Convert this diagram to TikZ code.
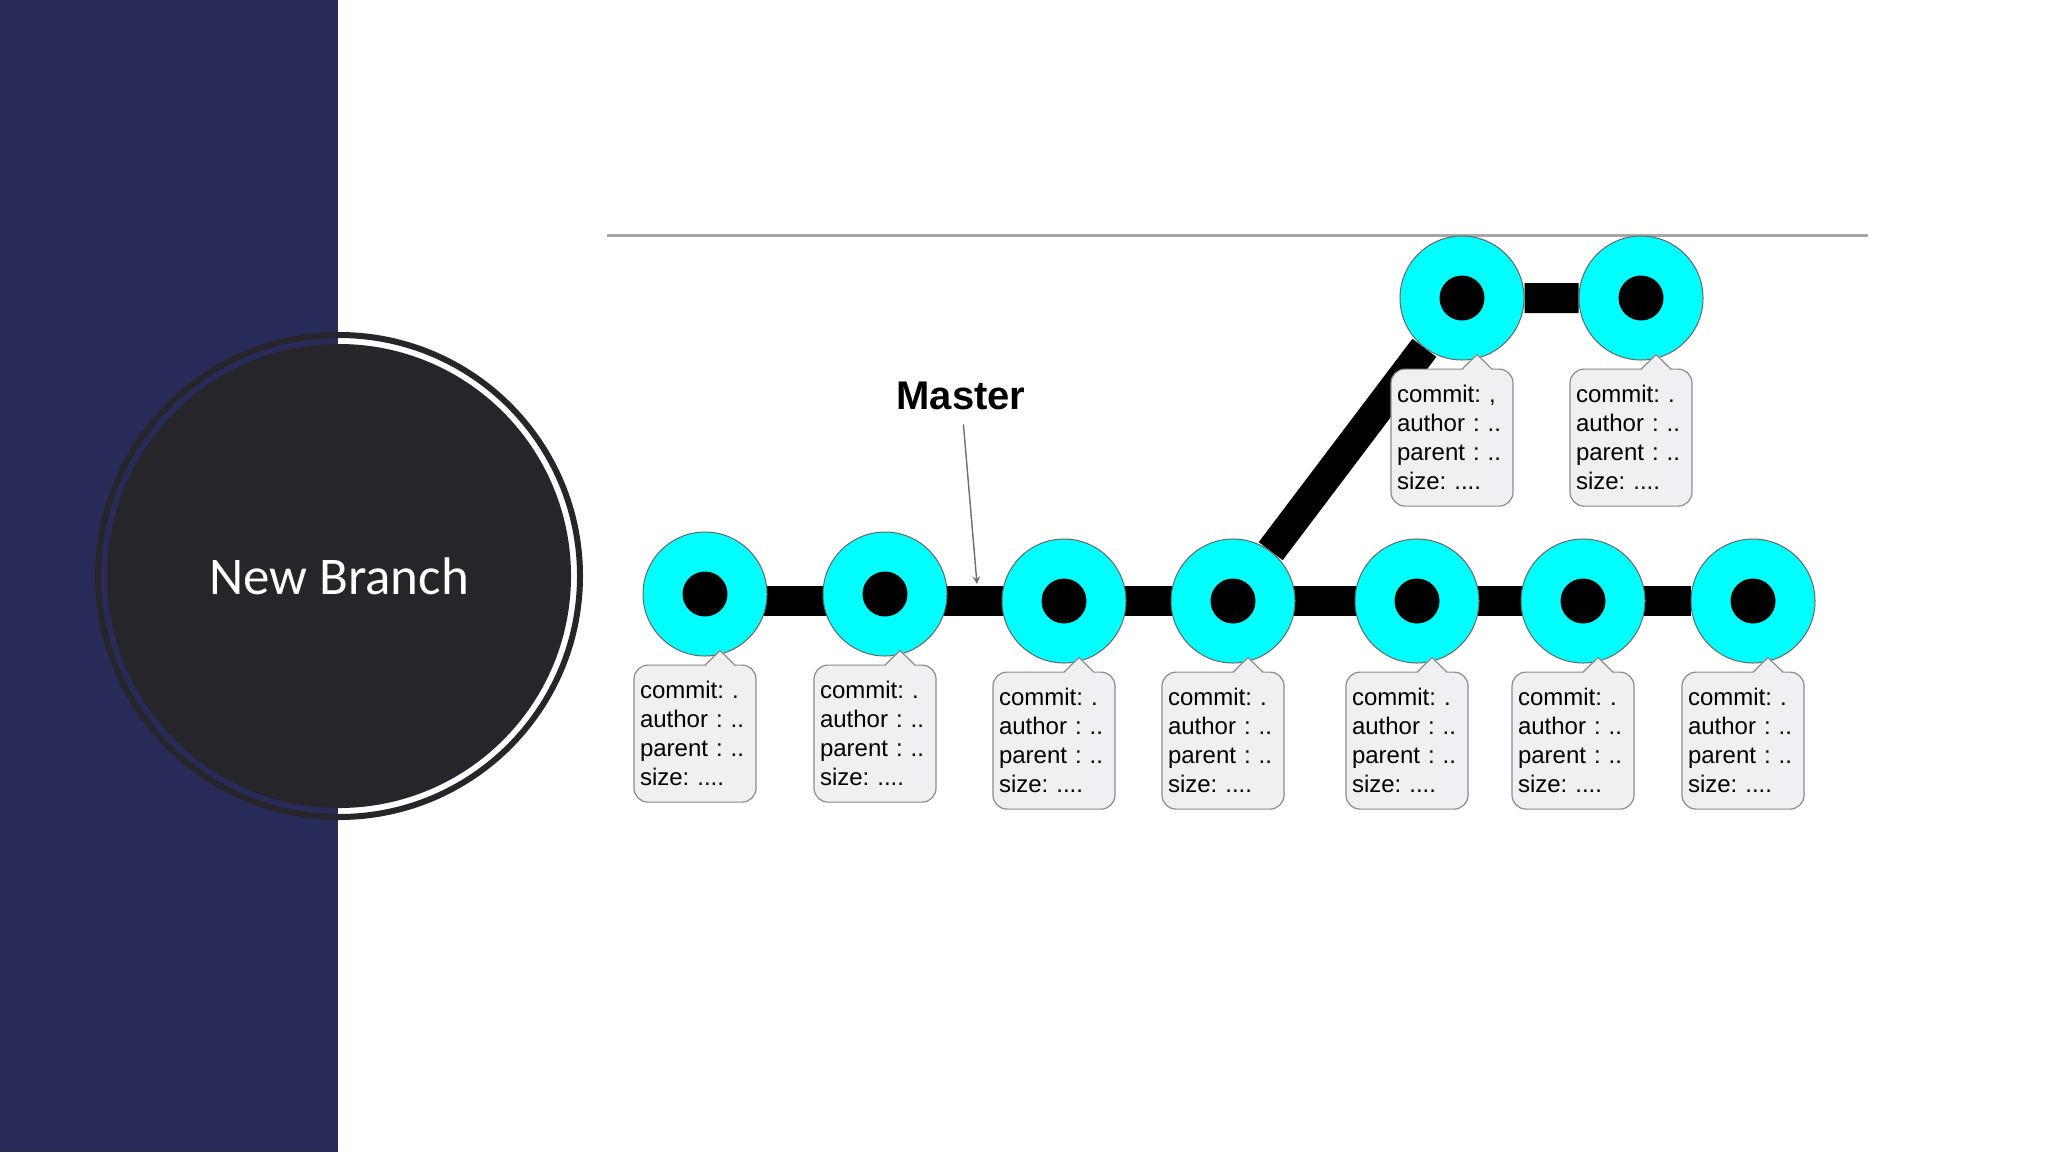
\documentclass[tikz,border=0pt]{standalone}
\usepackage{fontspec}
\setmainfont{Liberation Sans}
\newfontfamily\slidefont{Carlito}
\usetikzlibrary{positioning,calc,arrows}
\definecolor{slidenavy}{RGB}{40,42,88}
\definecolor{charcoal}{RGB}{38,38,42}
\definecolor{commitcyan}{RGB}{0,255,255}
\definecolor{memogray}{RGB}{240,240,242}
\definecolor{memoline}{RGB}{140,140,140}
\definecolor{rulegray}{RGB}{166,166,166}
\definecolor{pointergray}{RGB}{110,110,110}
\pgfdeclarelayer{back}
\pgfdeclarelayer{bars}
\pgfsetlayers{back,bars,main}
\frenchspacing

\begin{document}
\begin{tikzpicture}[
    x=0.5pt, y=-0.5pt,
    >=stealth,
    commit/.style={circle, fill=commitcyan, draw=black!60, line width=0.5pt, minimum size=62pt, inner sep=0pt,
        path picture={\fill[black] (path picture bounding box.center) circle (11.25pt);}},
    memo/.style={rectangle, draw=memoline, fill=memogray, line width=0.6pt, rounded corners=7pt,
        align=left, text width=55pt, inner xsep=3pt, minimum height=68.5pt,
        font=\fontsize{12}{14.5}\selectfont},
    trunk/.style={line width=15pt, black},
    topicdisk/.style={circle, fill=charcoal, minimum size=232pt, inner sep=0pt, text=white,
        font=\slidefont\fontsize{26.5}{30}\selectfont}
]
    \useasboundingbox (0,0) rectangle (2048,1152);

    % slide backdrop
    \begin{pgfonlayer}{back}
        \fill[white] (0,0) rectangle (2048,1152);
        \fill[slidenavy] (0,0) rectangle (338,1152);
    \end{pgfonlayer}
    \node (topic) [topicdisk] at (339,576) {New Branch};
    \draw[charcoal, line width=3pt] (topic.center) circle (120.5pt);
    \draw[rulegray, line width=1.5pt] (607,235) -- (1868,235);

    % commits
    \node (c1) [commit] at (705,594) {};
    \node (c2) [commit] at (885,594) {};
    \node (c3) [commit] at (1064,601) {};
    \node (c4) [commit] at (1233,601) {};
    \node (c5) [commit] at (1417,601) {};
    \node (c6) [commit] at (1583,601) {};
    \node (c7) [commit] at (1753,601) {};
    \node (b1) [commit] at (1462,298) {};
    \node (b2) [commit] at (1641,298) {};

    % commit info
    \node (m1) [memo, below=4pt of c1, xshift=-5pt] {commit: .\\author : ..\\parent : ..\\size: ....};
    \node (m2) [memo, below=4pt of c2, xshift=-5pt] {commit: .\\author : ..\\parent : ..\\size: ....};
    \node (m3) [memo, below=4pt of c3, xshift=-5pt] {commit: .\\author : ..\\parent : ..\\size: ....};
    \node (m4) [memo, below=4pt of c4, xshift=-5pt] {commit: .\\author : ..\\parent : ..\\size: ....};
    \node (m5) [memo, below=4pt of c5, xshift=-5pt] {commit: .\\author : ..\\parent : ..\\size: ....};
    \node (m6) [memo, below=4pt of c6, xshift=-5pt] {commit: .\\author : ..\\parent : ..\\size: ....};
    \node (m7) [memo, below=4pt of c7, xshift=-5pt] {commit: .\\author : ..\\parent : ..\\size: ....};
    \node (n1) [memo, below=4pt of b1, xshift=-5pt] {commit: ,\\author : ..\\parent : ..\\size: ....};
    \node (n2) [memo, below=4pt of b2, xshift=-5pt] {commit: .\\author : ..\\parent : ..\\size: ....};

    \foreach \m in {m1,m2,m3,m4,m5,m6,m7,n1,n2} {
        \fill[memogray] ($(\m.north)+(5pt,-1pt)$) -- ($(\m.north)+(12.5pt,7pt)$) -- ($(\m.north)+(20pt,-1pt)$) -- cycle;
        \draw[memoline, line width=0.6pt] ($(\m.north)+(5pt,-0.3pt)$) -- ($(\m.north)+(12.5pt,7pt)$) -- ($(\m.north)+(20pt,-0.3pt)$);
    }

    % branch lines
    \begin{pgfonlayer}{bars}
        \draw[trunk] (c1 |- c7) -- (c7);
        \draw[trunk] (c4) -- (b1) -- (b2);
    \end{pgfonlayer}

    \node (master) [font=\bfseries\fontsize{20}{24}\selectfont, inner sep=7pt] at (961,396) {Master};
    \coordinate (mhead) at (977,584);
    \draw[->, pointergray, line width=0.7pt] (master) -- (mhead);

\end{tikzpicture}
\end{document}
